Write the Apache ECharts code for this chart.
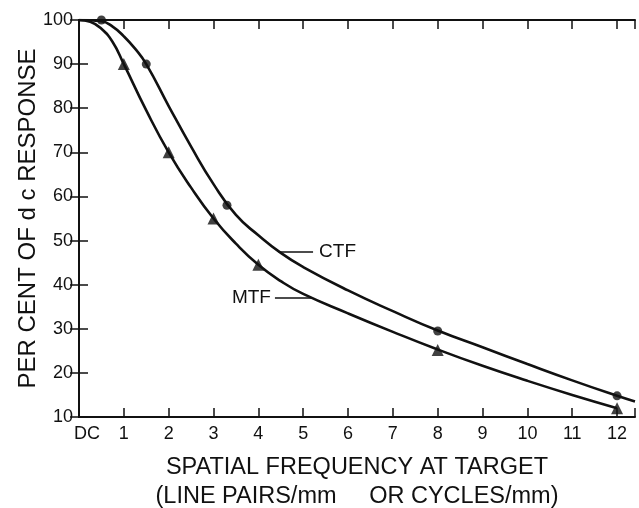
<!DOCTYPE html>
<html>
<head>
<meta charset="utf-8">
<script src="https://cdn.jsdelivr.net/npm/echarts@6/dist/echarts.min.js"></script>
<style>html,body{margin:0;padding:0;background:#fff}#c{width:639px;height:508px}</style>
</head>
<body>
<div id="c"></div>
<script>
// Curves
var ctfCurveX = [0, 0.5, 0.75, 1, 1.25, 1.5, 2, 2.5, 3, 3.5, 4, 4.5, 5, 6, 7, 8, 9, 10, 11, 12, 12.4];
var ctfCurveY = [100, 99.7, 98.5, 96.3, 93.5, 90, 80.5, 71.3, 62.8, 55.8, 51.2, 47.2, 44, 38.7, 34, 29.6, 25.8, 22, 18.3, 14.8, 13.5];
var mtfCurveX = [0, 0.25, 0.5, 0.75, 1, 1.5, 2, 2.5, 3, 3.5, 4, 4.5, 5, 6, 7, 8, 9, 10, 11, 12];
var mtfCurveY = [100, 99.6, 98, 95, 90, 79.5, 70, 62, 55, 49.3, 44.5, 40.8, 37.9, 33.5, 29.3, 25.3, 21.6, 18.2, 15, 12];
// Measured points
var ctfPointX = [0.5, 1.5, 3.3, 8, 12];
var ctfPointY = [100, 90, 58, 29.5, 14.8];
var mtfPointX = [1, 2, 3, 4, 8, 12];
var mtfPointY = [90, 70, 55, 44.5, 25.2, 12];
// Tick labels
var xTickLabels = ['DC', '1', '2', '3', '4', '5', '6', '7', '8', '9', '10', '11', '12'];
var ctfLabel = 'CTF', mtfLabel = 'MTF';
var ctfPointer = [[4.45, 47.5], [5.22, 47.5]];
var mtfPointer = [[4.37, 37.0], [5.2, 37.0]];

function zip(a, b) { return a.map(function (v, i) { return [v, b[i]]; }); }

var FONT = 'Liberation Sans';
var INK = '#111';
var chart = echarts.init(document.getElementById('c'), null, {renderer: 'canvas'});
chart.setOption({
  animation: false,
  backgroundColor: '#fff',
  grid: {left: 79, right: 4, top: 20, bottom: 91, containLabel: false, outerBoundsMode: 'none'},
  xAxis: [{
    type: 'value', min: 0, max: 12.4, interval: 1, position: 'bottom',
    axisLine: {lineStyle: {color: INK, width: 2}},
    axisTick: {inside: true, length: 9, lineStyle: {color: INK, width: 1.5}},
    splitLine: {show: false},
    axisLabel: {
      color: INK, fontFamily: FONT, fontSize: 18, margin: 8,
      formatter: function (v) {
        if (Math.abs(v - Math.round(v)) > 1e-6) return '';
        var i = Math.round(v);
        return i === 0 ? '{dc|' + xTickLabels[0] + '}' : (xTickLabels[i] || '');
      },
      rich: {dc: {fontFamily: FONT, fontSize: 18, color: INK, padding: [0, 0, 0, 16]}}
    },
    name: 'SPATIAL FREQUENCY AT TARGET\n(LINE PAIRS/mm     OR CYCLES/mm)',
    nameLocation: 'middle', nameGap: 36, nameMoveOverlap: false,
    nameTextStyle: {color: INK, fontFamily: FONT, fontSize: 23.5, lineHeight: 29}
  }, {
    type: 'value', min: 0, max: 12.4, interval: 1, position: 'top',
    axisLine: {lineStyle: {color: INK, width: 2}},
    axisTick: {inside: true, length: 9, lineStyle: {color: INK, width: 1.5}},
    axisLabel: {show: false}, splitLine: {show: false}
  }],
  yAxis: [{
    type: 'value', min: 10, max: 100, interval: 10, position: 'left',
    axisLine: {show: true, lineStyle: {color: INK, width: 2}},
    axisTick: {show: true, inside: true, length: 9, lineStyle: {color: INK, width: 1.5}},
    splitLine: {show: false},
    axisLabel: {color: INK, fontFamily: FONT, fontSize: 18, margin: 6},
    name: 'PER CENT OF d c RESPONSE',
    nameLocation: 'middle', nameGap: 39, nameRotate: 90, nameMoveOverlap: false,
    nameTextStyle: {color: INK, fontFamily: FONT, fontSize: 24}
  }, {
    type: 'value', min: 10, max: 100, interval: 10, position: 'right',
    axisLine: {show: true, lineStyle: {color: INK, width: 2}},
    axisTick: {show: true, inside: true, length: 9, lineStyle: {color: INK, width: 1.5}},
    axisLabel: {show: false}, splitLine: {show: false}
  }],
  series: [{
    name: 'CTF curve', type: 'line', data: zip(ctfCurveX, ctfCurveY),
    smooth: 0.5, showSymbol: false, symbol: 'none',
    lineStyle: {color: INK, width: 2.6},
    markLine: {
      silent: true, symbol: 'none',
      lineStyle: {color: INK, width: 1.5, type: 'solid'},
      label: {show: true, position: 'end', formatter: ctfLabel, color: INK, fontFamily: FONT, fontSize: 19, distance: 6},
      data: [[{coord: ctfPointer[0]}, {coord: ctfPointer[1]}]]
    }
  }, {
    name: 'MTF curve', type: 'line', data: zip(mtfCurveX, mtfCurveY),
    smooth: 0.5, showSymbol: false, symbol: 'none',
    lineStyle: {color: INK, width: 2.6},
    markLine: {
      silent: true, symbol: 'none',
      lineStyle: {color: INK, width: 1.5, type: 'solid'},
      label: {show: true, position: 'start', formatter: mtfLabel, color: INK, fontFamily: FONT, fontSize: 19, distance: 4},
      data: [[{coord: mtfPointer[0]}, {coord: mtfPointer[1]}]]
    }
  }, {
    name: 'CTF', type: 'scatter', data: zip(ctfPointX, ctfPointY),
    symbol: 'circle', symbolSize: 9, itemStyle: {color: INK}, z: 5
  }, {
    name: 'MTF', type: 'scatter', data: zip(mtfPointX, mtfPointY),
    symbol: 'triangle', symbolSize: 12, itemStyle: {color: INK}, z: 5
  }]
});
</script>
</body>
</html>
